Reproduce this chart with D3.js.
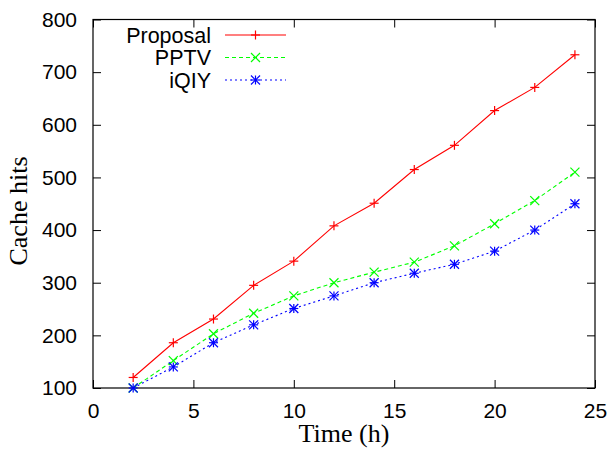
<!DOCTYPE html>
<html>
<head>
<meta charset="utf-8">
<script src="https://cdn.jsdelivr.net/npm/d3@7"></script>
<style>
body { margin:0; background:#fff; }
</style>
</head>
<body>
<div id="chart"></div>
<script>
// data
var hours = [2, 4, 6, 8, 10, 12, 14, 16, 18, 20, 22, 24];
var proposal = [120, 186, 231, 295, 341, 408, 451, 515, 561, 627, 671, 733];
var pptv = [100, 152, 203, 242, 275, 300, 320, 339, 370, 412, 456, 510];
var iqiy = [100, 140, 186, 220, 251, 275, 300, 318, 335, 360, 400, 450];
var xTicks = [0, 5, 10, 15, 20, 25];
var yTicks = [100, 200, 300, 400, 500, 600, 700, 800];

var series = [
	{name:'Proposal', values:proposal, color:'#ff0000', dash:null, mark:'plus'},
	{name:'PPTV', values:pptv, color:'#00ff00', dash:'4,3', mark:'cross'},
	{name:'iQIY', values:iqiy, color:'#0000ff', dash:'2,3', mark:'star'}
];

var svgW = 611, svgH = 450;
var margin = {top:19.5, right:16, bottom:62, left:93};
var width = svgW - margin.left - margin.right;
var height = svgH - margin.top - margin.bottom;

var svg = d3.select('#chart')
	.append('svg')
	.attr('width', svgW)
	.attr('height', svgH)
	.append('g')
	.attr('transform', 'translate(' + margin.left + ',' + margin.top + ')');

var x = d3.scaleLinear().domain([0, 25]).range([0, width]);
var y = d3.scaleLinear().domain([100, 800]).range([height, 0]);

// axes, ticks pointing inward on all four sides
var tickFont = '"Liberation Sans", Arial, sans-serif';
var serif = '"Liberation Serif", "Times New Roman", serif';
var axBottom = svg.append('g')
	.attr('transform', 'translate(0,' + height + ')')
	.call(d3.axisBottom(x).tickValues(xTicks).tickSizeInner(-8).tickSizeOuter(0).tickPadding(15));
var axLeft = svg.append('g')
	.call(d3.axisLeft(y).tickValues(yTicks).tickSizeInner(-8).tickSizeOuter(0).tickPadding(16));
var axTop = svg.append('g')
	.call(d3.axisTop(x).tickValues(xTicks).tickSizeInner(-8).tickSizeOuter(0).tickFormat(''));
var axRight = svg.append('g')
	.attr('transform', 'translate(' + width + ',0)')
	.call(d3.axisRight(y).tickValues(yTicks).tickSizeInner(-8).tickSizeOuter(0).tickFormat(''));
[axBottom, axLeft, axTop, axRight].forEach(function (g) {
	g.select('.domain').remove();
	g.selectAll('line').attr('stroke', '#000');
	g.selectAll('text')
		.style('font-family', tickFont)
		.style('font-size', '21px')
		.attr('fill', '#000');
});

svg.append('rect')
	.attr('width', width)
	.attr('height', height)
	.attr('fill', 'none')
	.attr('stroke', '#000')
	.attr('stroke-width', 1.2);

// axis titles
svg.append('text')
	.attr('text-anchor', 'middle')
	.attr('x', width / 2)
	.attr('y', height + 54)
	.style('font-family', serif)
	.style('font-size', '26px')
	.text('Time (h)');
svg.append('text')
	.attr('text-anchor', 'middle')
	.attr('transform', 'rotate(-90)')
	.attr('x', -(211 - margin.top))
	.attr('y', -margin.left + 27)
	.style('font-family', serif)
	.style('font-size', '26px')
	.text('Cache hits');

// markers
function drawMark(g, type, cx, cy, color) {
	var s = 4.5;
	var segs = [];
	if (type === 'plus' || type === 'star') segs.push([-s, 0, s, 0], [0, -s, 0, s]);
	if (type === 'cross' || type === 'star') segs.push([-s, -s, s, s], [-s, s, s, -s]);
	segs.forEach(function (p) {
		g.append('line')
			.attr('x1', cx + p[0]).attr('y1', cy + p[1])
			.attr('x2', cx + p[2]).attr('y2', cy + p[3])
			.attr('stroke', color)
			.attr('stroke-width', 1.2);
	});
}

var line = d3.line()
	.x(function (d, i) { return x(hours[i]); })
	.y(function (d) { return y(d); });

series.forEach(function (s) {
	var g = svg.append('g');
	g.append('path')
		.datum(s.values)
		.attr('d', line)
		.attr('fill', 'none')
		.attr('stroke', s.color)
		.attr('stroke-width', 1.1)
		.attr('stroke-dasharray', s.dash);
	s.values.forEach(function (v, i) {
		drawMark(g, s.mark, x(hours[i]), y(v), s.color);
	});
});

// legend
var legend = svg.append('g');
series.forEach(function (s, i) {
	var ly = 15.5 + i * 22.5;
	legend.append('text')
		.attr('x', 118)
		.attr('y', ly)
		.attr('dy', '0.36em')
		.attr('text-anchor', 'end')
		.style('font-family', tickFont)
		.style('font-size', '21.5px')
		.text(s.name);
	legend.append('line')
		.attr('x1', 132).attr('x2', 193)
		.attr('y1', ly).attr('y2', ly)
		.attr('stroke', s.color)
		.attr('stroke-width', 1.1)
		.attr('stroke-dasharray', s.dash);
	drawMark(legend, s.mark, 162.5, ly, s.color);
});
</script>
</body>
</html>
